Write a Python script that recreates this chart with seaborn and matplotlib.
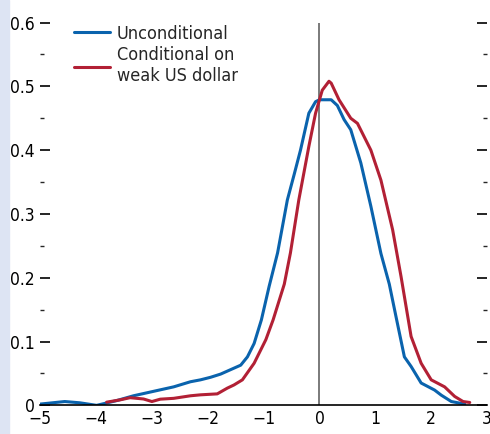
import numpy as np
import pandas as pd
import matplotlib
matplotlib.use('Agg')
import matplotlib.pyplot as plt
from matplotlib.ticker import MultipleLocator
from matplotlib.patches import Rectangle
import seaborn as sns

sns.set_style('white')
plt.rcParams['font.family'] = ['DejaVu Sans']
plt.rcParams['font.stretch'] = 'condensed'
plt.rcParams['axes.unicode_minus'] = True

# 无条件分布
uncond_x = [-5.0, -4.56, -4.29, -3.99, -3.63, -3.33, -2.97, -2.61, -2.31, -2.13,
            -1.95, -1.77, -1.59, -1.41, -1.29, -1.17, -1.04, -0.9, -0.75, -0.575,
            -0.45, -0.34, -0.19, -0.07, 0.0, 0.1, 0.21, 0.32, 0.44, 0.56, 0.74,
            0.92, 1.1, 1.25, 1.37, 1.52, 1.64, 1.82, 2.06, 2.18, 2.36, 2.6]
uncond_y = [0.002, 0.006, 0.004, 0.0, 0.0075, 0.015, 0.022, 0.029, 0.037, 0.04,
            0.044, 0.049, 0.056, 0.063, 0.076, 0.097, 0.134, 0.187, 0.239, 0.322,
            0.363, 0.40, 0.458, 0.476, 0.479, 0.479, 0.479, 0.47, 0.448, 0.432, 0.38,
            0.312, 0.238, 0.19, 0.139, 0.076, 0.061, 0.035, 0.024, 0.016, 0.006, 0.002]

# 美元走弱条件下的分布
cond_x = [-3.81, -3.57, -3.39, -3.15, -3.0, -2.85, -2.61, -2.31, -2.13, -1.83,
          -1.65, -1.53, -1.38, -1.17, -0.96, -0.83, -0.63, -0.52, -0.37, -0.19,
          -0.07, 0.05, 0.17, 0.21, 0.35, 0.56, 0.68, 0.92, 1.1, 1.31, 1.46,
          1.64, 1.82, 2.0, 2.24, 2.42, 2.57, 2.69]
cond_y = [0.005, 0.0086, 0.012, 0.01, 0.006, 0.0097, 0.011, 0.015, 0.0165, 0.018,
          0.027, 0.032, 0.04, 0.066, 0.103, 0.134, 0.19, 0.239, 0.322, 0.406,
          0.458, 0.494, 0.508, 0.505, 0.479, 0.45, 0.442, 0.40, 0.353, 0.275, 0.202,
          0.108, 0.066, 0.04, 0.029, 0.014, 0.006, 0.0045]

series_names = ['Unconditional', 'Conditional on\nweak US dollar']
colors = ['#0a63ad', '#b22035']

df = pd.concat([
    pd.DataFrame({'x': uncond_x, 'density': uncond_y, 'series': series_names[0]}),
    pd.DataFrame({'x': cond_x, 'density': cond_y, 'series': series_names[1]}),
])

fig = plt.figure(figsize=(4.9, 4.34), dpi=100)
fig.patches.append(Rectangle((0, 0), 9 / 490, 1, transform=fig.transFigure,
                             color='#dde4f3', zorder=-5))
ax = fig.add_axes([0.082, 0.066, 0.912, 0.882])
ax.patch.set_alpha(0)

ax.axvline(0, color='#7a7a7a', lw=1.4, zorder=1)
sns.lineplot(data=df, x='x', y='density', hue='series', palette=colors,
             sort=False, estimator=None, lw=2.2, ax=ax, zorder=2)

ax.set_xlim(-5, 3)
ax.set_ylim(0, 0.6)
ax.set_xlabel('')
ax.set_ylabel('')
ax.xaxis.set_major_locator(MultipleLocator(1))
ax.yaxis.set_major_locator(MultipleLocator(0.1))
ax.yaxis.set_minor_locator(MultipleLocator(0.05))
ax.set_yticks(ax.get_yticks())
ax.set_yticklabels(['0' if abs(v) < 1e-9 else f'{v:.1f}' for v in ax.get_yticks()])
ax.set_ylim(0, 0.6)

for s in ['left', 'right', 'top']:
    ax.spines[s].set_visible(False)
ax.spines['bottom'].set_linewidth(1.2)
ax.spines['bottom'].set_color('black')

ax.tick_params(axis='both', which='major', direction='in', length=7, width=1.2,
               labelsize=12.5, colors='black', pad=4)
ax.tick_params(axis='y', which='both', left=True, right=True, labelright=False)
ax.tick_params(axis='y', which='minor', direction='in', length=3, width=1.0)
ax.tick_params(axis='x', pad=3)

leg = ax.legend(loc='upper left', bbox_to_anchor=(0.06, 1.013), frameon=False,
                fontsize=13, handlelength=2.0, handletextpad=0.35,
                labelspacing=0.2, borderaxespad=0)
for line in leg.get_lines():
    line.set_linewidth(2.2)

fig.savefig('out.png', dpi=100)
